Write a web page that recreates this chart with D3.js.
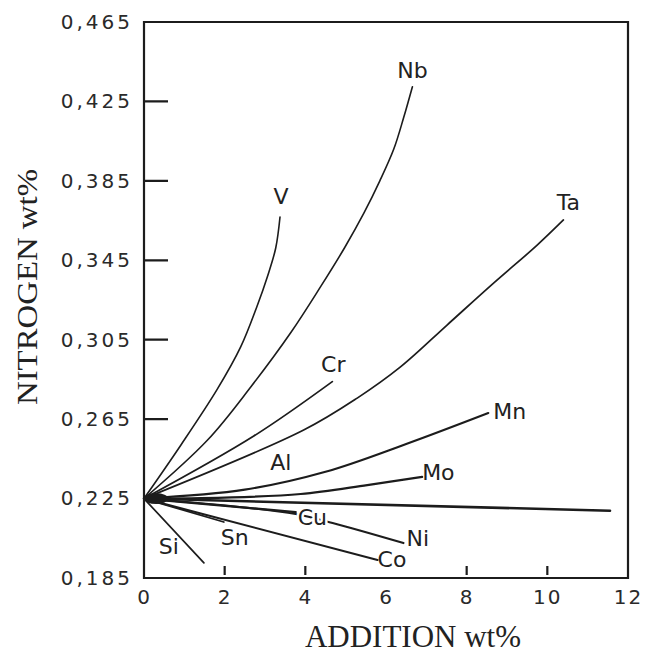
<!DOCTYPE html>
<html>
<head>
<meta charset="utf-8">
<script src="https://cdn.jsdelivr.net/npm/d3@7"></script>
<style>
  html, body { margin: 0; padding: 0; background: #ffffff; }
  svg { display: block; }
</style>
</head>
<body>
<svg id="chart" width="645" height="656"></svg>
<script>
// Nitrogen solubility vs. alloy addition, one curve per alloying element.
// Each series: [addition wt%, nitrogen wt%]
const V  = [[0,0.225],[0.916,0.2520],[1.806,0.2797],[2.400,0.3015],[2.796,0.3215],[3.063,0.3370],[3.266,0.3512],[3.372,0.3668]];
const Nb = [[0,0.225],[1.576,0.2545],[2.647,0.2812],[3.654,0.3090],[4.379,0.3317],[4.973,0.3513],[5.451,0.3687],[5.847,0.3850],[6.193,0.4010],[6.440,0.4170],[6.655,0.4324]];
const Cr = [[0,0.225],[2.722,0.2565],[4.669,0.2839]];
const Ta = [[0,0.225],[3.959,0.2595],[5.287,0.2756],[6.359,0.2913],[7.514,0.3124],[8.667,0.3335],[9.741,0.3525],[10.399,0.3653]];
const Mn = [[0,0.225],[2.5,0.2295],[4.5,0.2385],[6.5,0.2525],[8.536,0.2681]];
const Mo = [[0,0.225],[2.0,0.2255],[3.884,0.2273],[5.535,0.2318],[6.896,0.2359]];
const Base = [[0,0.225],[11.554,0.2189]];
const Cu = [[0,0.225],[3.761,0.2182]];
const Ni = [[0,0.225],[2.5,0.2205],[3.761,0.2172],[4.676,0.2127],[6.433,0.2026]];
const Co = [[0,0.225],[5.790,0.1941]];
const Sn = [[0,0.225],[1.979,0.2132]];
const Si = [[0,0.225],[1.485,0.1926]];

const seriesNames = ["V","Nb","Cr","Ta","Mn","Mo","","Cu","Ni","Co","Sn","Si"];
const seriesValues = [V, Nb, Cr, Ta, Mn, Mo, Base, Cu, Ni, Co, Sn, Si];

// Free-standing element label (at addition wt%, nitrogen wt%)
const freeLabels = [{ text: "Al", at: [3.39, 0.2434] }];

const xTicks = [0, 2, 4, 6, 8, 10, 12];
const xTickMarks = [2, 4, 8, 10];
const yTicks = [0.185, 0.225, 0.265, 0.305, 0.345, 0.385, 0.425, 0.465];
const yTickMarks = [0.225, 0.265, 0.305, 0.345, 0.385, 0.425];

// Drawing styles and label placement (pixel offsets from each curve's end)
const lineWidth = { V: 1.6, Nb: 1.6, Cr: 1.7, Ta: 1.7, Mn: 2.1, Mo: 2.2, "": 2.6, Cu: 2.3, Ni: 2.1, Co: 2.1, Sn: 1.8, Si: 1.7 };
const labelStyle = {
  V:  { dx: 1,   dy: -20, anchor: "middle" },
  Nb: { dx: 0,   dy: -16, anchor: "middle" },
  Cr: { dx: 1,   dy: -17, anchor: "middle" },
  Ta: { dx: 5,   dy: -17, anchor: "middle" },
  Mn: { dx: 5,   dy: -1,  anchor: "start" },
  Mo: { dx: 0,   dy: -4,  anchor: "start" },
  Cu: { dx: 2,   dy: 5,   anchor: "start", halo: true },
  Ni: { dx: 3,   dy: -5,  anchor: "start" },
  Co: { dx: 0,   dy: 0,   anchor: "start" },
  Sn: { dx: -3,  dy: 15,  anchor: "start" },
  Si: { dx: -35, dy: -16, anchor: "middle" }
};

const ink = "#1c1c1c";
const svg = d3.select("#chart");

const x = d3.scaleLinear().domain([0, 12]).range([144, 628]);
const y = d3.scaleLinear().domain([0.185, 0.465]).range([578, 22]);

// Frame and inward tick marks, built as one outline
const frame = d3.path();
frame.rect(x(0), y(0.465), x(12) - x(0), y(0.185) - y(0.465));
yTickMarks.forEach(v => { frame.moveTo(x(0), y(v)); frame.lineTo(x(0) + 24, y(v)); });
xTickMarks.forEach(v => { frame.moveTo(x(v), y(0.185) - 3); frame.lineTo(x(v), y(0.185) - 12); });
svg.append("path")
  .attr("d", frame.toString())
  .attr("fill", "none")
  .attr("stroke", ink)
  .attr("stroke-width", 2.2);

const tickFont = "'DejaVu Sans', sans-serif";

// Y axis: labels with comma decimals
const yAxis = d3.axisLeft(y)
  .tickValues(yTicks)
  .tickSize(0).tickPadding(14)
  .tickFormat(d => d3.format(".3f")(d).replace(".", ","));
const gy = svg.append("g").attr("transform", `translate(${x(0)},0)`).call(yAxis);
gy.select(".domain").remove();
gy.selectAll(".tick text")
  .attr("fill", "#2a2a2a").attr("dx", 3)
  .style("font-family", tickFont).style("font-size", "20px").style("letter-spacing", "3px");

// X axis labels
const xAxis = d3.axisBottom(x).tickValues(xTicks).tickSize(0).tickPadding(12).tickFormat(d3.format("d"));
const gx = svg.append("g").attr("transform", `translate(0,${y(0.185)})`).call(xAxis);
gx.select(".domain").remove();
gx.selectAll(".tick text")
  .attr("fill", "#2a2a2a")
  .style("font-family", tickFont).style("font-size", "20px").style("letter-spacing", "2px");

// Axis titles
svg.append("text")
  .attr("x", 413).attr("y", 647)
  .attr("text-anchor", "middle")
  .attr("fill", "#222")
  .style("font-family", "'Liberation Serif', 'Times New Roman', serif")
  .style("font-size", "31px")
  .text("ADDITION wt%");

svg.append("text")
  .attr("transform", "translate(37,287) rotate(-90)")
  .attr("text-anchor", "middle")
  .attr("fill", "#222")
  .attr("textLength", 236).attr("lengthAdjust", "spacingAndGlyphs")
  .style("font-family", "'Liberation Serif', 'Times New Roman', serif")
  .style("font-size", "29px")
  .text("NITROGEN wt%");

// Curves
const line = d3.line()
  .x(d => x(d[0])).y(d => y(d[1]))
  .curve(d3.curveCatmullRom.alpha(0.5));

const curves = seriesNames.map((name, i) => ({ name, values: seriesValues[i] }));

svg.append("g").selectAll("path")
  .data(curves)
  .join("path")
  .attr("d", d => line(d.values))
  .attr("fill", "none")
  .attr("stroke", ink)
  .attr("stroke-width", d => lineWidth[d.name])
  .attr("stroke-linecap", "round");

// Dense knot where all curves leave the common starting point
svg.append("ellipse")
  .attr("cx", x(0.3)).attr("cy", y(0.225))
  .attr("rx", 12).attr("ry", 5.5)
  .attr("fill", ink);

// Curve labels
const labelFont = "'DejaVu Sans', sans-serif";
svg.append("g").selectAll("text")
  .data(curves.filter(d => d.name))
  .join("text")
  .attr("x", d => x(d.values[d.values.length - 1][0]) + labelStyle[d.name].dx)
  .attr("y", d => y(d.values[d.values.length - 1][1]) + labelStyle[d.name].dy)
  .attr("text-anchor", d => labelStyle[d.name].anchor)
  .attr("dominant-baseline", "central")
  .attr("fill", "#222")
  .attr("stroke", d => labelStyle[d.name].halo ? "#ffffff" : "none")
  .attr("stroke-width", 5)
  .attr("paint-order", "stroke")
  .style("font-family", labelFont)
  .style("font-size", "22px")
  .text(d => d.name);

svg.append("g").selectAll("text")
  .data(freeLabels)
  .join("text")
  .attr("x", d => x(d.at[0])).attr("y", d => y(d.at[1]))
  .attr("text-anchor", "middle")
  .attr("dominant-baseline", "central")
  .attr("fill", "#222")
  .style("font-family", labelFont)
  .style("font-size", "22px")
  .text(d => d.text);
</script>
</body>
</html>
